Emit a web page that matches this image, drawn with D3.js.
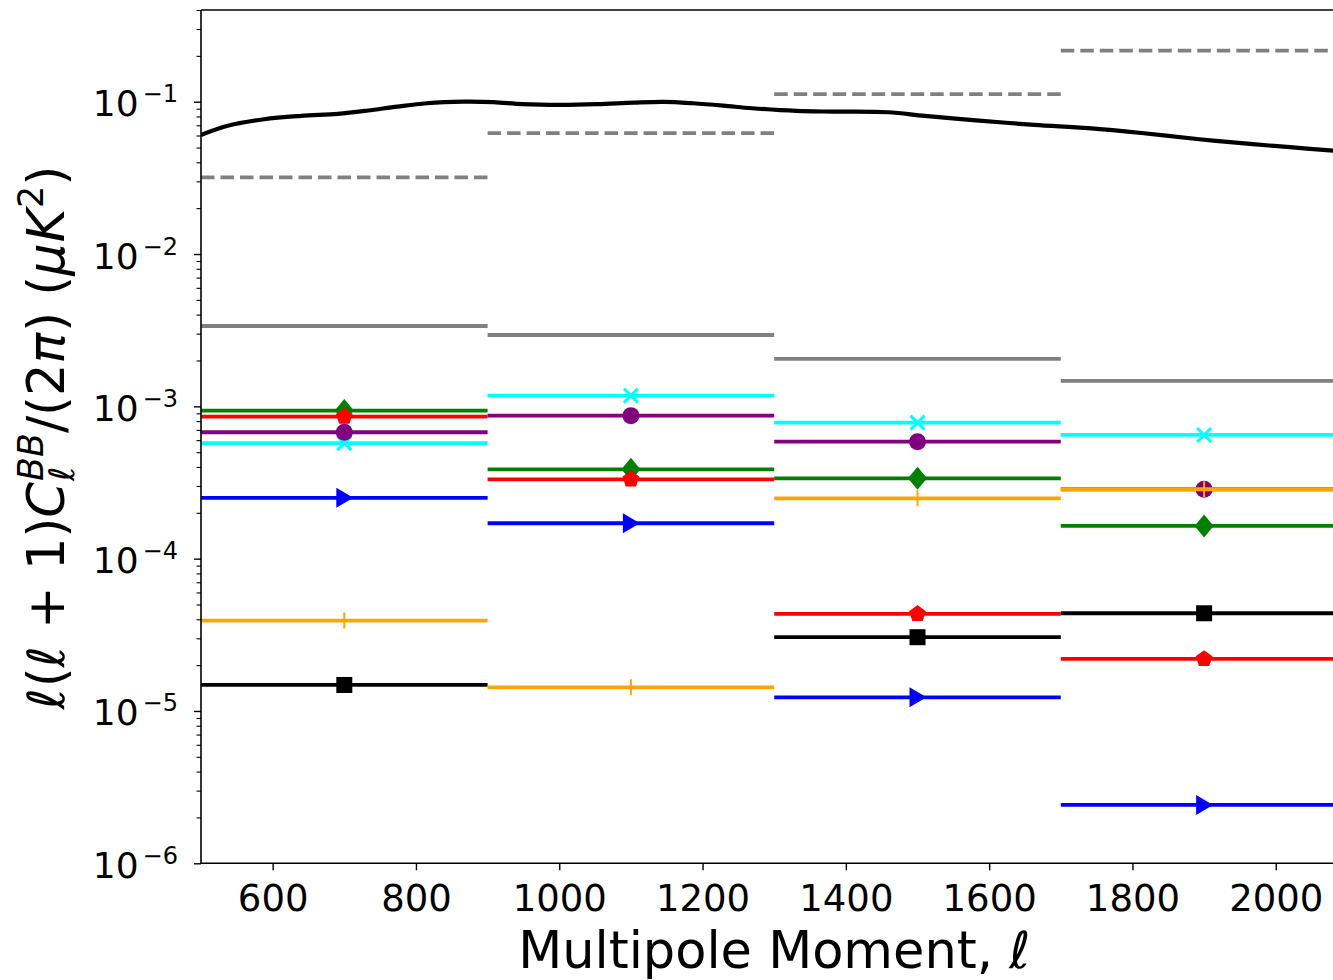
<!DOCTYPE html>
<html>
<head>
<meta charset="utf-8">
<script src="https://cdn.jsdelivr.net/npm/d3@7"></script>
<style>
  html, body { margin: 0; padding: 0; background: #fff; }
  svg { display: block; }
  text { font-family: "DejaVu Sans", sans-serif; fill: #000; }
</style>
</head>
<body>
<svg id="chart" width="1333" height="980"></svg>
<script>
// ---- data -------------------------------------------------------------
const binEdges   = [500, 900, 1300, 1700, 2100];
const binCenters = [700, 1100, 1500, 1900];

// reference levels per bin
const grayDashed = [0.0319, 0.0621, 0.112, 0.2166];
const graySolid  = [0.00337, 0.00294, 0.00205, 0.00147];

// binned BB residuals per component (null = not plotted)
const cyanX         = [5.73e-4, 1.175e-3, 7.82e-4, 6.49e-4];
const greenDiamond  = [9.38e-4, 3.86e-4, 3.37e-4, 1.64e-4];
const redPentagon   = [8.55e-4, 3.32e-4, 4.34e-5, 2.195e-5];
const purpleCircle  = [6.76e-4, 8.69e-4, 5.86e-4, 2.855e-4];
const blueTriangle  = [2.51e-4, 1.708e-4, 1.23e-5, 2.415e-6];
const blackSquare   = [1.482e-5, null, 3.05e-5, 4.38e-5];
const orangePlus    = [3.92e-5, 1.43e-5, 2.49e-4, 2.855e-4];

// lensing BB spectrum
const cmbEll = [500, 536, 588, 640, 691, 733, 774, 815, 867, 908, 949, 1001, 1053, 1104, 1146,
                1187, 1229, 1269, 1331, 1382, 1459, 1510, 1586, 1663, 1739, 1816, 1893, 1968, 2020, 2080, 2100];
const cmbBB  = [0.0605, 0.0693, 0.0767, 0.0807, 0.0832, 0.0875, 0.0929, 0.0977, 0.1000, 0.0993, 0.0963,
                0.0953, 0.0963, 0.0987, 0.0998, 0.0977, 0.0943, 0.0906, 0.0870, 0.0861, 0.0853, 0.0807,
                0.0752, 0.0704, 0.0670, 0.0621, 0.0567, 0.0526, 0.0503, 0.0477, 0.0470];

const xTicks = [600, 800, 1000, 1200, 1400, 1600, 1800, 2000];
const yDecades = [-6, -5, -4, -3, -2, -1];

// ---- layout -----------------------------------------------------------
const plot = { left: 201, right: 1347.4, top: 10, bottom: 863.3 };
const svg = d3.select("#chart");

const x = d3.scaleLinear().domain([500, 2100]).range([plot.left, plot.right]);
const y = d3.scaleLog().domain([1e-6, 0.4]).range([plot.bottom, plot.top]);

svg.append("defs").append("clipPath").attr("id", "plotClip")
  .append("rect")
  .attr("x", plot.left).attr("y", plot.top)
  .attr("width", plot.right - plot.left).attr("height", plot.bottom - plot.top);

const g = svg.append("g").attr("clip-path", "url(#plotClip)");

const LW = 3.8;

// binned horizontal segments
function drawBins(values, color, dash) {
  const segs = values.map((v, i) => ({ v, x0: binEdges[i], x1: binEdges[i + 1] }))
                     .filter(d => d.v != null);
  g.append("g").selectAll("line").data(segs).join("line")
    .attr("x1", d => x(d.x0)).attr("x2", d => x(d.x1))
    .attr("y1", d => y(d.v)).attr("y2", d => y(d.v))
    .attr("stroke", color).attr("stroke-width", LW)
    .attr("stroke-dasharray", dash || null)
    .attr("fill", "none");
}

// marker shapes
const shapes = {
  square:   () => `M${-8},${-8}H8V8H${-8}Z`,
  circle:   () => d3.symbol(d3.symbolCircle, Math.PI * 8.5 * 8.5)(),
  diamond:  () => `M0,-11.5L9.5,0L0,11.5L-9.5,0Z`,
  pentagon: () => {
    const r = 8.8, pts = [];
    for (let k = 0; k < 5; k++) {
      const a = -Math.PI / 2 + k * 2 * Math.PI / 5;
      pts.push([r * Math.cos(a), r * Math.sin(a)]);
    }
    return "M" + pts.map(p => p.join(",")).join("L") + "Z";
  },
  triRight: () => `M9,0L-8,-10L-8,10Z`,
  cross:    () => `M-7,-7L7,7M-7,7L7,-7`,
  plus:     () => `M0,-8V8M-8,0H8`
};

function drawMarkers(values, color, shape, stroked, sw) {
  const pts = values.map((v, i) => ({ v, c: binCenters[i] })).filter(d => d.v != null);
  g.append("g").selectAll("path").data(pts).join("path")
    .attr("transform", d => `translate(${x(d.c)},${y(d.v)})`)
    .attr("d", shapes[shape]())
    .attr("fill", stroked ? "none" : color)
    .attr("stroke", stroked ? color : "none")
    .attr("stroke-width", sw || 0);
}

function drawSeries(values, color, shape, stroked, sw) {
  drawBins(values, color);
  drawMarkers(values, color, shape, stroked, sw);
}

// reference levels
drawBins(grayDashed, "#808080", "13.5,6");
drawBins(graySolid, "#808080");

// lensing curve
g.append("path")
  .datum(cmbEll.map((l, i) => [l, cmbBB[i]]))
  .attr("fill", "none").attr("stroke", "#000").attr("stroke-width", 4.2)
  .attr("d", d3.line().x(d => x(d[0])).y(d => y(d[1])).curve(d3.curveCatmullRom));

// components
drawSeries(cyanX, "#00ffff", "cross", true, 3);
drawSeries(greenDiamond, "#008000", "diamond");
drawSeries(redPentagon, "#ff0000", "pentagon");
drawSeries(purpleCircle, "#800080", "circle");
drawSeries(blueTriangle, "#0000ff", "triRight");
drawSeries(blackSquare, "#000000", "square");
drawSeries(orangePlus, "#ffa500", "plus", true, 2);

// ---- axes -------------------------------------------------------------
const axisG = svg.append("g");
// frame
axisG.append("line").attr("x1", plot.left).attr("x2", plot.left)
  .attr("y1", plot.top).attr("y2", plot.bottom).attr("stroke", "#000").attr("stroke-width", 1.6);
axisG.append("line").attr("x1", plot.left).attr("x2", 1333)
  .attr("y1", plot.bottom).attr("y2", plot.bottom).attr("stroke", "#000").attr("stroke-width", 1.6);
axisG.append("line").attr("x1", plot.left).attr("x2", 1333)
  .attr("y1", plot.top).attr("y2", plot.top).attr("stroke", "#000").attr("stroke-width", 1.6);

// x axis ticks and labels
const xAxis = d3.axisBottom(x).tickValues(xTicks).tickSize(7).tickPadding(0).tickFormat(d3.format("d"));
const xg = svg.append("g").attr("transform", `translate(0,${plot.bottom})`).call(xAxis);
xg.select(".domain").remove();
xg.selectAll(".tick line").attr("stroke", "#000").attr("stroke-width", 1.4);
xg.selectAll(".tick text").attr("font-size", 37).attr("font-family", "DejaVu Sans")
  .attr("y", 47.5).attr("dy", null);

// y axis: major ticks at decades, minor at 2..9
const minor = [];
for (let e = -6; e <= -1; e++) for (let m = 2; m <= 9; m++) {
  const v = m * Math.pow(10, e);
  if (v <= 0.4) minor.push(v);
}
const yMinor = d3.axisLeft(y).tickValues(minor).tickSize(4.5).tickFormat("");
const ymg = svg.append("g").attr("transform", `translate(${plot.left},0)`).call(yMinor);
ymg.select(".domain").remove();
ymg.selectAll(".tick line").attr("stroke", "#000").attr("stroke-width", 1.1);

const yMajor = d3.axisLeft(y).tickValues(yDecades.map(e => Math.pow(10, e))).tickSize(7).tickFormat("");
const yMg = svg.append("g").attr("transform", `translate(${plot.left},0)`).call(yMajor);
yMg.select(".domain").remove();
yMg.selectAll(".tick line").attr("stroke", "#000").attr("stroke-width", 1.4);

// decade labels 10^e
const yl = svg.append("g");
yDecades.forEach(e => {
  const yy = y(Math.pow(10, e));
  const t = yl.append("text").attr("x", 178).attr("y", yy + 14.5)
    .attr("text-anchor", "end").attr("font-size", 36);
  t.append("tspan").text("10");
  t.append("tspan").attr("font-size", 24).attr("dy", -14).attr("dx", 4).text("\u2212" + Math.abs(e));
});

// x label
svg.append("text")
  .attr("x", (plot.left + plot.right) / 2).attr("y", 968)
  .attr("text-anchor", "middle").attr("font-size", 51)
  .text("Multipole Moment, ")
  .append("tspan").attr("font-style", "italic").text("\u2113");

// y label, laid out piece by piece (sub/superscripts stacked)
const FS = 51, SS = 35;
const ylab = svg.append("g").attr("transform", "translate(64,437.5) rotate(-90)");
const pieces = [
  { t: "\u2113", it: true },
  { t: "(" },
  { t: "\u2113", it: true },
  { t: " + 1)" },
  { t: "C", it: true },
  { t: "\u2113", it: true, size: SS, dy: 10, stack: true },
  { t: "BB", it: true, size: SS, dy: -21 },
  { t: "/(2" },
  { t: "\u03c0", it: true },
  { t: ") (" },
  { t: "\u03bc", it: true },
  { t: "K", it: true },
  { t: "2", size: SS, dy: -21 },
  { t: ")" }
];
let cx = 0;
pieces.forEach(p => {
  const node = ylab.append("text")
    .attr("x", cx).attr("y", p.dy || 0)
    .attr("font-size", p.size || FS)
    .attr("font-style", p.it ? "italic" : null)
    .attr("xml:space", "preserve")
    .text(p.t);
  const w = node.node().getComputedTextLength();
  if (!p.stack) cx += w + (p.it && !p.size ? 1 : 0);
});
// center the label on its anchor
ylab.selectAll("text").attr("transform", `translate(${-cx / 2},0)`);
</script>
</body>
</html>
